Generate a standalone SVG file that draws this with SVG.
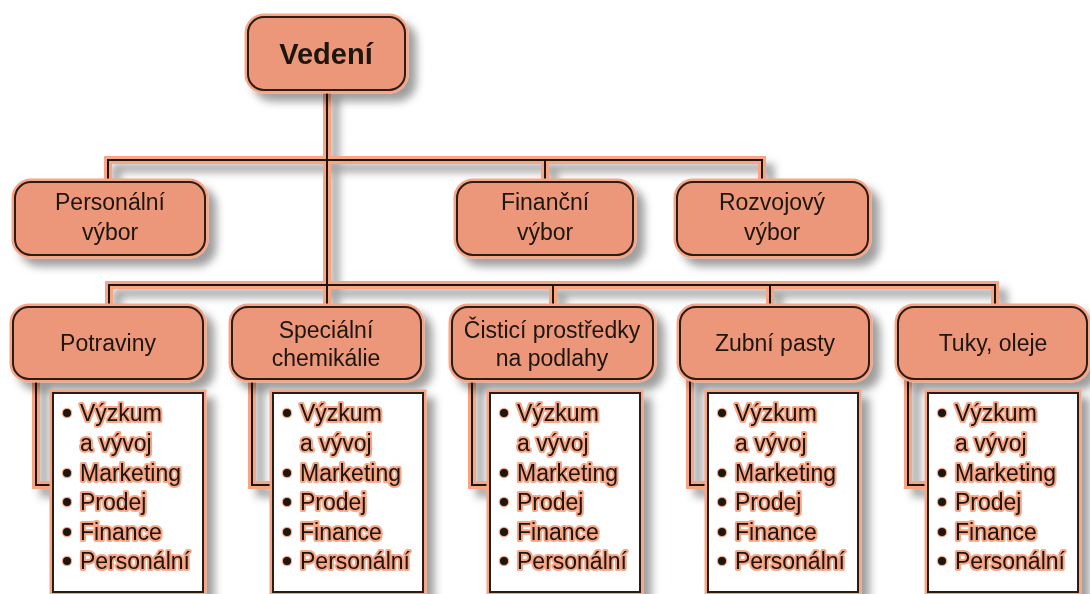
<svg xmlns="http://www.w3.org/2000/svg" width="1090" height="594" viewBox="0 0 1090 594">
  <style>
    .box { fill: #EC977A; stroke: #2b1a12; stroke-width: 2; }
    .halo { fill: none; stroke: #F8A585; stroke-width: 7; }
    .list { fill: #ffffff; stroke: #2b1a12; stroke-width: 2; }
    .wire-o { fill: none; stroke: #F8A585; stroke-width: 8; stroke-linejoin: miter; }
    .wire { fill: none; stroke: #1e120c; stroke-width: 2; stroke-linejoin: miter; }
    .t { font-family: "Liberation Sans", Arial, sans-serif; font-size: 23px; fill: #1c1410; text-anchor: middle; }
    .tb { font-family: "Liberation Sans", Arial, sans-serif; font-size: 29px; font-weight: bold; fill: #1c1410; text-anchor: middle; }
    .li { font-family: "Liberation Sans", Arial, sans-serif; font-size: 23px; fill: #1c1410; stroke: #F8A585; stroke-width: 4; paint-order: stroke; stroke-linejoin: round; }
    .dot { fill: #1c1410; stroke: #F8A585; stroke-width: 2.5; paint-order: stroke; }
  </style>
  <defs>
    <filter id="shadow" filterUnits="userSpaceOnUse" x="0" y="0" width="1090" height="594">
      <feGaussianBlur in="SourceAlpha" stdDeviation="4.5"/>
      <feOffset dx="8" dy="8" result="blur"/>
      <feFlood flood-color="#000000" flood-opacity="0.38"/>
      <feComposite in2="blur" operator="in"/>
      <feMerge>
        <feMergeNode/>
        <feMergeNode in="SourceGraphic"/>
      </feMerge>
    </filter>
  </defs>

  <rect width="1090" height="594" fill="#ffffff"/>

  <!-- connectors: salmon casing under a thin dark core -->
  <g id="connectors" filter="url(#shadow)">
    <g class="wire-o">
      <path d="M327 90 V308"/>
      <path d="M108 182 V160 H762 V182"/>
      <path d="M545 160 V182"/>
      <path d="M109 307 V285 H995 V307"/>
      <path d="M553 285 V307"/>
      <path d="M770 285 V307"/>
      <path d="M36 379 V485 H53"/>
      <path d="M252 379 V485 H273"/>
      <path d="M472 379 V485 H490"/>
      <path d="M690 379 V485 H708"/>
      <path d="M908 379 V485 H928"/>
    </g>
    <g class="wire">
      <path d="M327 90 V308"/>
      <path d="M108 182 V160 H762 V182"/>
      <path d="M545 160 V182"/>
      <path d="M109 307 V285 H995 V307"/>
      <path d="M553 285 V307"/>
      <path d="M770 285 V307"/>
      <path d="M36 379 V485 H53"/>
      <path d="M252 379 V485 H273"/>
      <path d="M472 379 V485 H490"/>
      <path d="M690 379 V485 H708"/>
      <path d="M908 379 V485 H928"/>
    </g>
  </g>

  <!-- top -->
  <g id="vedeni" filter="url(#shadow)">
    <rect class="halo" x="248" y="17" width="157" height="73" rx="16"/>
    <rect class="box" x="248" y="17" width="157" height="73" rx="16"/>
    <text class="tb" x="326" y="64">Vedení</text>
  </g>

  <!-- committees -->
  <g id="personalni-vybor" filter="url(#shadow)">
    <rect class="halo" x="15" y="182" width="190" height="73" rx="16"/>
    <rect class="box" x="15" y="182" width="190" height="73" rx="16"/>
    <text class="t" x="110" y="210">Personální</text>
    <text class="t" x="110" y="240">výbor</text>
  </g>
  <g id="financni-vybor" filter="url(#shadow)">
    <rect class="halo" x="457" y="182" width="176" height="73" rx="16"/>
    <rect class="box" x="457" y="182" width="176" height="73" rx="16"/>
    <text class="t" x="545" y="210">Finanční</text>
    <text class="t" x="545" y="240">výbor</text>
  </g>
  <g id="rozvojovy-vybor" filter="url(#shadow)">
    <rect class="halo" x="677" y="182" width="191" height="73" rx="16"/>
    <rect class="box" x="677" y="182" width="191" height="73" rx="16"/>
    <text class="t" x="772" y="210">Rozvojový</text>
    <text class="t" x="772" y="240">výbor</text>
  </g>

  <!-- divisions -->
  <g id="potraviny" filter="url(#shadow)">
    <rect class="halo" x="13" y="307" width="190" height="72" rx="16"/>
    <rect class="box" x="13" y="307" width="190" height="72" rx="16"/>
    <text class="t" x="108" y="351">Potraviny</text>
  </g>
  <g id="specialni-chemikalie" filter="url(#shadow)">
    <rect class="halo" x="232" y="307" width="189" height="72" rx="16"/>
    <rect class="box" x="232" y="307" width="189" height="72" rx="16"/>
    <text class="t" x="326" y="338">Speciální</text>
    <text class="t" x="326" y="366">chemikálie</text>
  </g>
  <g id="cistici-prostredky" filter="url(#shadow)">
    <rect class="halo" x="452" y="307" width="201" height="72" rx="16"/>
    <rect class="box" x="452" y="307" width="201" height="72" rx="16"/>
    <text class="t" x="552" y="338">Čisticí prostředky</text>
    <text class="t" x="552" y="366">na podlahy</text>
  </g>
  <g id="zubni-pasty" filter="url(#shadow)">
    <rect class="halo" x="680" y="307" width="189" height="72" rx="16"/>
    <rect class="box" x="680" y="307" width="189" height="72" rx="16"/>
    <text class="t" x="775" y="351">Zubní pasty</text>
  </g>
  <g id="tuky-oleje" filter="url(#shadow)">
    <rect class="halo" x="898" y="307" width="189" height="72" rx="16"/>
    <rect class="box" x="898" y="307" width="189" height="72" rx="16"/>
    <text class="t" x="993" y="351">Tuky, oleje</text>
  </g>

  <!-- function lists -->
  <g id="list-potraviny" filter="url(#shadow)">
    <rect class="halo" x="53" y="393" width="150" height="199"/>
    <rect class="list" x="53" y="393" width="150" height="199"/>
    <g class="dot"><circle cx="67" cy="413" r="4"/><circle cx="67" cy="473" r="4"/><circle cx="67" cy="502" r="4"/><circle cx="67" cy="532" r="4"/><circle cx="67" cy="561" r="4"/></g>
    <text class="li" x="80" y="421">Výzkum</text>
    <text class="li" x="80" y="451">a vývoj</text>
    <text class="li" x="80" y="481">Marketing</text>
    <text class="li" x="80" y="510">Prodej</text>
    <text class="li" x="80" y="540">Finance</text>
    <text class="li" x="80" y="569">Personální</text>
  </g>
  <g id="list-specialni" filter="url(#shadow)">
    <rect class="halo" x="273" y="393" width="150" height="199"/>
    <rect class="list" x="273" y="393" width="150" height="199"/>
    <g class="dot"><circle cx="287" cy="413" r="4"/><circle cx="287" cy="473" r="4"/><circle cx="287" cy="502" r="4"/><circle cx="287" cy="532" r="4"/><circle cx="287" cy="561" r="4"/></g>
    <text class="li" x="300" y="421">Výzkum</text>
    <text class="li" x="300" y="451">a vývoj</text>
    <text class="li" x="300" y="481">Marketing</text>
    <text class="li" x="300" y="510">Prodej</text>
    <text class="li" x="300" y="540">Finance</text>
    <text class="li" x="300" y="569">Personální</text>
  </g>
  <g id="list-cistici" filter="url(#shadow)">
    <rect class="halo" x="490" y="393" width="150" height="199"/>
    <rect class="list" x="490" y="393" width="150" height="199"/>
    <g class="dot"><circle cx="504" cy="413" r="4"/><circle cx="504" cy="473" r="4"/><circle cx="504" cy="502" r="4"/><circle cx="504" cy="532" r="4"/><circle cx="504" cy="561" r="4"/></g>
    <text class="li" x="517" y="421">Výzkum</text>
    <text class="li" x="517" y="451">a vývoj</text>
    <text class="li" x="517" y="481">Marketing</text>
    <text class="li" x="517" y="510">Prodej</text>
    <text class="li" x="517" y="540">Finance</text>
    <text class="li" x="517" y="569">Personální</text>
  </g>
  <g id="list-zubni" filter="url(#shadow)">
    <rect class="halo" x="708" y="393" width="150" height="199"/>
    <rect class="list" x="708" y="393" width="150" height="199"/>
    <g class="dot"><circle cx="722" cy="413" r="4"/><circle cx="722" cy="473" r="4"/><circle cx="722" cy="502" r="4"/><circle cx="722" cy="532" r="4"/><circle cx="722" cy="561" r="4"/></g>
    <text class="li" x="735" y="421">Výzkum</text>
    <text class="li" x="735" y="451">a vývoj</text>
    <text class="li" x="735" y="481">Marketing</text>
    <text class="li" x="735" y="510">Prodej</text>
    <text class="li" x="735" y="540">Finance</text>
    <text class="li" x="735" y="569">Personální</text>
  </g>
  <g id="list-tuky" filter="url(#shadow)">
    <rect class="halo" x="928" y="393" width="150" height="199"/>
    <rect class="list" x="928" y="393" width="150" height="199"/>
    <g class="dot"><circle cx="942" cy="413" r="4"/><circle cx="942" cy="473" r="4"/><circle cx="942" cy="502" r="4"/><circle cx="942" cy="532" r="4"/><circle cx="942" cy="561" r="4"/></g>
    <text class="li" x="955" y="421">Výzkum</text>
    <text class="li" x="955" y="451">a vývoj</text>
    <text class="li" x="955" y="481">Marketing</text>
    <text class="li" x="955" y="510">Prodej</text>
    <text class="li" x="955" y="540">Finance</text>
    <text class="li" x="955" y="569">Personální</text>
  </g>
</svg>
